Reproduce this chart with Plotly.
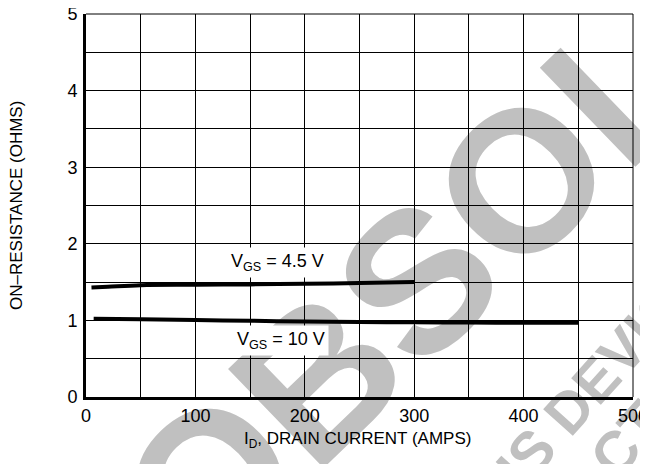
import plotly.graph_objects as go

# ---- data ----
vgs45_current = [5, 20, 50, 100, 150, 200, 250, 300]
vgs45_resistance = [1.43, 1.44, 1.46, 1.465, 1.47, 1.478, 1.488, 1.50]

vgs10_current = [7, 50, 100, 150, 200, 250, 300, 350, 400, 450]
vgs10_resistance = [1.02, 1.015, 1.005, 0.995, 0.986, 0.98, 0.975, 0.972, 0.97, 0.97]

x_tick_vals = [0, 100, 200, 300, 400, 500]
y_tick_vals = [0, 1, 2, 3, 4, 5]

label_45 = "V<sub>GS</sub> = 4.5 V"
label_10 = "V<sub>GS</sub> = 10 V"
x_title = "I<sub>D</sub>, DRAIN CURRENT (AMPS)"
y_title = "ON–RESISTANCE (OHMS)"

SANS = "Liberation Sans"
WM = "#c0c0c0"

fig = go.Figure()
fig.add_trace(go.Scatter(x=vgs45_current, y=vgs45_resistance, mode="lines",
                         line=dict(color="black", width=4, shape="spline"),
                         showlegend=False, hoverinfo="skip"))
fig.add_trace(go.Scatter(x=vgs10_current, y=vgs10_resistance, mode="lines",
                         line=dict(color="black", width=4, shape="spline"),
                         showlegend=False, hoverinfo="skip"))

# watermark (behind grid)
def wm(text, px, py, size, angle):
    fig.add_shape(type="rect", xref="paper", yref="paper",
                  x0=px - 0.001, x1=px + 0.001, y0=py - 0.001, y1=py + 0.001,
                  line=dict(width=0), fillcolor="rgba(0,0,0,0)", layer="below",
                  label=dict(text=f"<b>{text}</b>", textangle=angle,
                             textposition="middle center",
                             font=dict(family=SANS, size=size, color=WM)))

wm("OBSOLETE", 0.823, 0.6725, 200, -44)
wm("THIS DEVICE", 0.892, 0.001, 58, -48)
wm("CONTACT", 0.859, -0.2965, 58, -48)

# top & right borders
fig.add_shape(type="line", xref="paper", yref="paper", x0=0, x1=1, y0=1, y1=1,
              line=dict(color="black", width=1))
fig.add_shape(type="line", xref="paper", yref="paper", x0=1, x1=1, y0=0, y1=1,
              line=dict(color="black", width=1))

fig.add_annotation(x=175, y=1.75, xref="x", yref="y", text=label_45, showarrow=False,
                   font=dict(family=SANS, size=18, color="black"),
                   bgcolor="white", borderpad=3)
fig.add_annotation(x=178, y=0.74, xref="x", yref="y", text=label_10, showarrow=False,
                   font=dict(family=SANS, size=18, color="black"),
                   bgcolor="white", borderpad=3)

fig.add_annotation(x=0.4956, y=-0.111, xref="paper", yref="paper", text=x_title,
                   xanchor="center", yanchor="middle",
                   showarrow=False, font=dict(family=SANS, size=17, color="black"))
fig.add_annotation(x=-0.127, y=0.5, xref="paper", yref="paper", text=y_title,
                   xanchor="center", yanchor="middle",
                   textangle=-90, showarrow=False,
                   font=dict(family=SANS, size=17, color="black"))

fig.update_xaxes(range=[0, 500], tickvals=x_tick_vals, ticktext=[str(v) for v in x_tick_vals],
                 showgrid=True, gridcolor="black", gridwidth=1,
                 minor=dict(dtick=50, showgrid=True, gridcolor="black", gridwidth=1),
                 showline=True, linecolor="black", linewidth=3, zeroline=False,
                 ticks="", ticklabelstandoff=0, automargin=False, ticklabeloverflow="allow",
                 tickfont=dict(family=SANS, size=18, color="black"))
fig.update_yaxes(range=[0, 5], tickvals=y_tick_vals, ticktext=[str(v) for v in y_tick_vals],
                 showgrid=True, gridcolor="black", gridwidth=1,
                 minor=dict(dtick=0.5, showgrid=True, gridcolor="black", gridwidth=1),
                 showline=True, linecolor="black", linewidth=3, zeroline=False,
                 ticks="", ticklabelstandoff=2, automargin=False, ticklabeloverflow="allow",
                 tickfont=dict(family=SANS, size=18, color="black"))

fig.update_layout(width=640, height=456,
                  margin=dict(l=77.5, r=14.7, t=5.8, b=66.7, autoexpand=False),
                  paper_bgcolor="white", plot_bgcolor="rgba(0,0,0,0)")

fig.write_html("out.html")
